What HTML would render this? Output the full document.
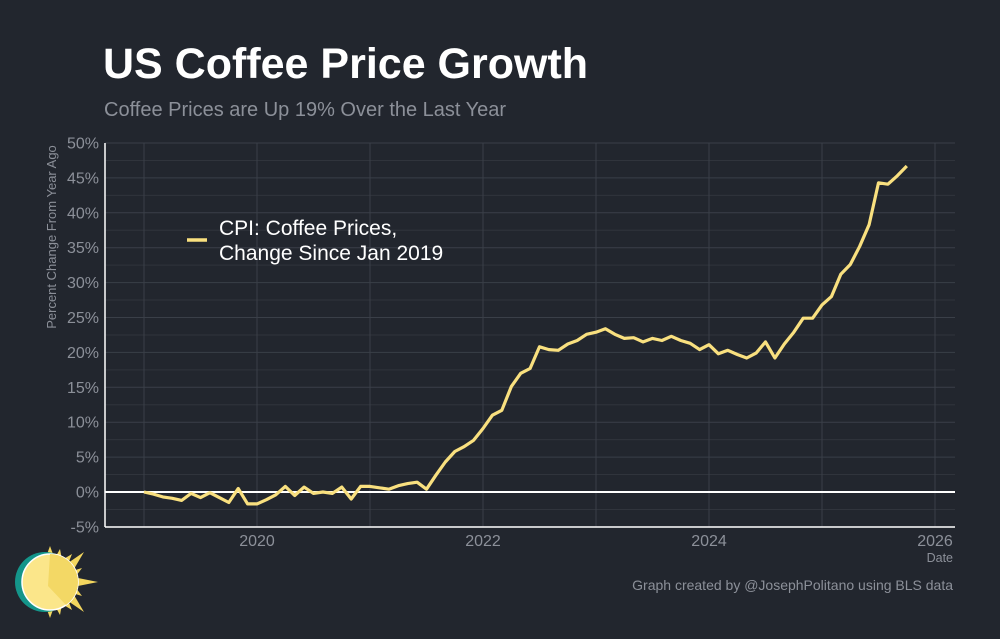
<!DOCTYPE html>
<html><head><meta charset="utf-8"><style>
body{margin:0;background:#22262e;}
svg{display:block;font-family:"Liberation Sans",sans-serif;}
</style></head><body>
<svg id="chart" width="1000" height="639" viewBox="0 0 1000 639">
<rect width="1000" height="639" fill="#22262e"/>
<text x="103" y="78" font-size="43" font-weight="bold" fill="#ffffff">US Coffee Price Growth</text>
<text x="104" y="116" font-size="20" fill="#8c9099">Coffee Prices are Up 19% Over the Last Year</text>
<g id="grid"></g>
<g id="yticks"></g>
<g id="xticks"></g>
<line x1="105" y1="143" x2="105" y2="527" stroke="#ffffff" stroke-width="1.5"/>
<line x1="105" y1="527" x2="955" y2="527" stroke="#ffffff" stroke-width="1.5"/>
<line id="zero" x1="105" x2="955" stroke="#ffffff" stroke-width="2"/>
<path id="series" fill="none" stroke="#f9e07f" stroke-width="3.2" stroke-linejoin="round"/>
<text transform="translate(56,237) rotate(-90)" text-anchor="middle" font-size="13" fill="#8c9099">Percent Change From Year Ago</text>
<text x="953" y="562" text-anchor="end" font-size="12.5" fill="#8c9099">Date</text>
<g>
<line x1="187" y1="240" x2="207" y2="240" stroke="#f9e07f" stroke-width="3.5"/>
<text x="219" y="235" font-size="21" fill="#ffffff">CPI: Coffee Prices,</text>
<text x="219" y="260" font-size="21" fill="#ffffff">Change Since Jan 2019</text>
</g>
<text x="953" y="590" text-anchor="end" font-size="14" fill="#8c9099">Graph created by @JosephPolitano using BLS data</text>
<g transform="translate(50,582)">
<g fill="#f3d65e">
<polygon points="0,-36 4,-25 -4,-25"/><polygon points="10,-33 12,-22 5,-24"/><polygon points="22,-28 18,-18 12,-22"/>
<polygon points="34,-30 24,-13 18,-19"/><polygon points="32,-14 26,-6 22,-11"/><polygon points="48,0 28,4 28,-4"/>
<polygon points="32,14 22,11 26,6"/><polygon points="34,30 18,19 24,13"/><polygon points="22,28 12,22 18,18"/>
<polygon points="10,33 5,24 12,22"/><polygon points="0,36 -4,25 4,25"/>
</g>
<circle cx="-5" cy="0" r="30" fill="#14958a"/>
<circle cx="0" cy="0" r="28" fill="#fbe68a" stroke="#ffffff" stroke-width="1.5"/>
<path d="M0,-28 A28,28 0 0 1 16,23 L-2,4 Z" fill="#f3d865"/>
</g>
</svg>
<script>
const yTicks=[-5,0,5,10,15,20,25,30,35,40,45,50];
const xTickYears=[2020,2022,2024,2026];
const startYear=2019;
const values=[0,-0.3,-0.7,-0.9,-1.2,-0.2,-0.8,-0.1,-0.8,-1.5,0.5,-1.7,-1.7,-1.1,-0.4,0.8,-0.5,0.7,-0.2,0,-0.2,0.7,-1,0.8,0.8,0.6,0.4,0.9,1.2,1.4,0.4,2.4,4.3,5.8,6.5,7.4,9.1,11.0,11.7,15.1,17.0,17.7,20.8,20.4,20.3,21.2,21.7,22.6,22.9,23.4,22.6,22.0,22.1,21.5,22.0,21.7,22.3,21.7,21.3,20.4,21.1,19.8,20.3,19.7,19.2,19.9,21.5,19.2,21.2,22.9,24.9,24.9,26.8,28.0,31.2,32.6,35.2,38.3,44.3,44.1,45.3,46.7];
const NS="http://www.w3.org/2000/svg";
const yS=v=>492-(v*34.9/5);
const xS=t=>144+(t-startYear)*113;
const grid=document.getElementById('grid'),yt=document.getElementById('yticks'),xt=document.getElementById('xticks');
function mk(tag,a,parent){const e=document.createElementNS(NS,tag);for(const k in a)e.setAttribute(k,a[k]);parent.appendChild(e);return e;}
for(let v=-5;v<=50;v+=2.5){
 const l=mk('line',{x1:105,x2:955,y1:yS(v),y2:yS(v),stroke:v%5===0?'#3a3f48':'#30343c','stroke-width':1},grid);
 
 
}
for(let yr=2019;yr<=2026;yr++){
 const l=mk('line',{x1:xS(yr),x2:xS(yr),y1:143,y2:527,stroke:'#3a3f48','stroke-width':1},grid);
 
 
}
yTicks.forEach(v=>{
 const t=mk('text',{x:99,y:yS(v)+5.5,'text-anchor':'end','font-size':16,fill:'#8c9099'},yt);
 t.textContent=v+'%';
 
 
});
xTickYears.forEach(yr=>{
 const t=mk('text',{x:xS(yr),y:546,'text-anchor':'middle','font-size':16,fill:'#8c9099'},xt);
 t.textContent=yr;
 
 
});
const z=document.getElementById('zero');z.setAttribute('y1',yS(0));z.setAttribute('y2',yS(0));
document.getElementById('series').setAttribute('d',values.map((v,i)=>(i?'L':'M')+xS(startYear+i/12).toFixed(1)+','+yS(v).toFixed(1)).join(''));
</script>
</body></html>
